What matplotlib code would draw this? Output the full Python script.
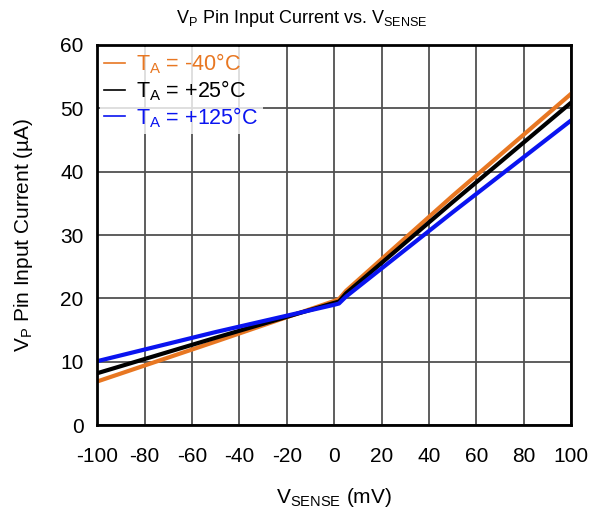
import matplotlib
matplotlib.use("Agg")
import matplotlib.pyplot as plt

plt.rcParams['font.family'] = ['Liberation Sans', 'DejaVu Sans']
plt.rcParams['mathtext.fontset'] = 'custom'
plt.rcParams['mathtext.rm'] = 'Liberation Sans'
plt.rcParams['mathtext.it'] = 'Liberation Sans'
plt.rcParams['mathtext.default'] = 'regular'
plt.rcParams['axes.unicode_minus'] = False

# V_SENSE (mV)
vsense = [-100, -50, 0, 2, 5, 50, 100]
# V_P pin input current (uA)
i_m40 = [6.9, 13.2, 19.6, 19.9, 21.2, 36.2, 52.3]
i_25 = [8.2, 13.8, 19.3, 19.5, 20.8, 35.2, 50.9]
i_125 = [10.1, 14.7, 19.0, 19.2, 20.3, 33.6, 48.1]

labels = ['$T_A$ = -40°C', '$T_A$ = +25°C', '$T_A$ = +125°C']
colors = ['#E87722', 'black', '#0A14F0']

def main():
    fig, ax = plt.subplots(figsize=(5.9, 5.11), dpi=100)
    fig.subplots_adjust(left=0.165, right=0.968, top=0.912, bottom=0.168)

    for y, lab, c in zip([i_m40, i_25, i_125], labels, colors):
        ax.plot(vsense, y, color=c, lw=3, label=lab)

    ax.set_xlim(-100, 100)
    ax.set_ylim(0, 60)
    ax.set_xticks(range(-100, 101, 20))
    ax.set_yticks(range(0, 61, 10))
    ax.grid(True, color='#505050', lw=1.3)
    ax.set_axisbelow(True)
    ax.tick_params(length=0, labelsize=15)
    ax.tick_params(axis='x', pad=16)
    ax.tick_params(axis='y', pad=10)
    for s in ax.spines.values():
        s.set_linewidth(2)

    fig.suptitle('$V_P$ Pin Input Current vs. $V_{SENSE}$', fontsize=13,
                 x=0.512, y=0.985)
    ax.set_xlabel('$V_{SENSE}$ (mV)', fontsize=15, labelpad=14)
    ax.set_ylabel('$V_P$ Pin Input Current (µA)', fontsize=15, labelpad=18)

    leg = ax.legend(loc='upper left', fontsize=15.5, frameon=True, fancybox=False,
                    handlelength=1.0, handletextpad=0.5, borderaxespad=0.1,
                    borderpad=0.2, labelspacing=0.1, edgecolor='none')
    for h in leg.get_lines():
        h.set_linewidth(1.2)
    for t, c in zip(leg.get_texts(), colors):
        t.set_color(c)

    fig.savefig('out.png', dpi=100)

if __name__ == "__main__":
    main()
